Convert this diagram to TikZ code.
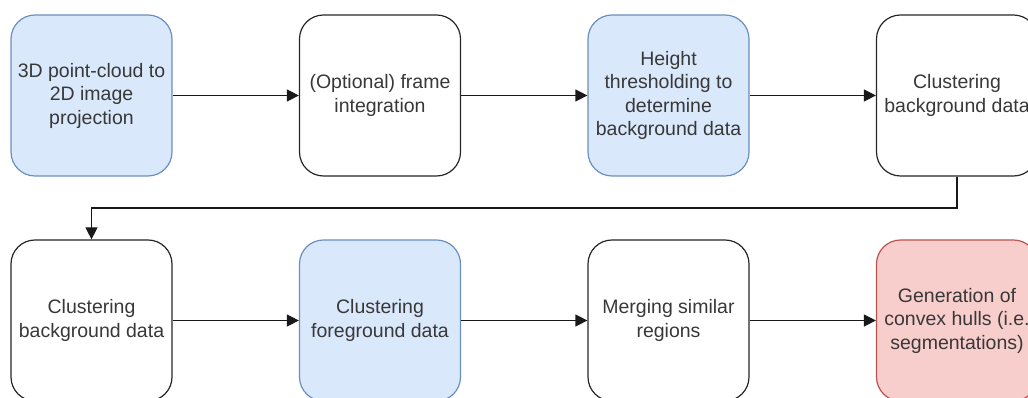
\documentclass[tikz,border=0pt]{standalone}
\usepackage{fontspec}
\setmainfont{Liberation Sans}
\usetikzlibrary{positioning,arrows.meta}
\definecolor{boxblue}{HTML}{DAE8FC}
\definecolor{lineblue}{HTML}{6C8EBF}
\definecolor{boxred}{HTML}{F8CECC}
\definecolor{linered}{HTML}{B85450}
\begin{document}
\begin{tikzpicture}[x=1pt,y=1pt,
  stage/.style={draw=black!85,line width=1.2pt,rounded corners=24pt,
    minimum width=161pt,minimum height=161pt,inner sep=0pt,align=center,
    font=\fontsize{19.5}{23.5}\selectfont,text=black!78},
  bluestage/.style={stage,fill=boxblue,draw=lineblue},
  redstage/.style={stage,fill=boxred,draw=linered},
  flow/.style={-{Triangle[length=12pt,width=12pt]},line width=1.2pt,black!90}]
\path[use as bounding box,clip] (0,0) rectangle (1028,398);
% first row
\node[bluestage] (proj) at (91.5,302.5) {3D point-cloud to\\2D image\\projection};
\node[stage,right=126.3pt of proj] (frames) {(Optional) frame\\integration};
\node[bluestage,right=126.3pt of frames] (thresh) {Height\\thresholding to\\determine\\background data};
\node[stage,right=126.3pt of thresh] (bgclus) {Clustering\\background data};
% second row
\node[stage,below=62.8pt of proj] (bgclustwo) {Clustering\\background data};
\node[bluestage,right=126.3pt of bgclustwo] (fgclus) {Clustering\\foreground data};
\node[stage,right=126.3pt of fgclus] (merge) {Merging similar\\regions};
\node[redstage,right=126.3pt of merge] (hulls) {Generation of\\convex hulls (i.e.\\segmentations)};
\draw[flow] (proj) -- (frames);
\draw[flow] (frames) -- (thresh);
\draw[flow] (thresh) -- (bgclus);
\draw[flow] (bgclus.south) -- ++(0,-31.5) -| (bgclustwo.north);
\draw[flow] (bgclustwo) -- (fgclus);
\draw[flow] (fgclus) -- (merge);
\draw[flow] (merge) -- (hulls);
\end{tikzpicture}
\end{document}
